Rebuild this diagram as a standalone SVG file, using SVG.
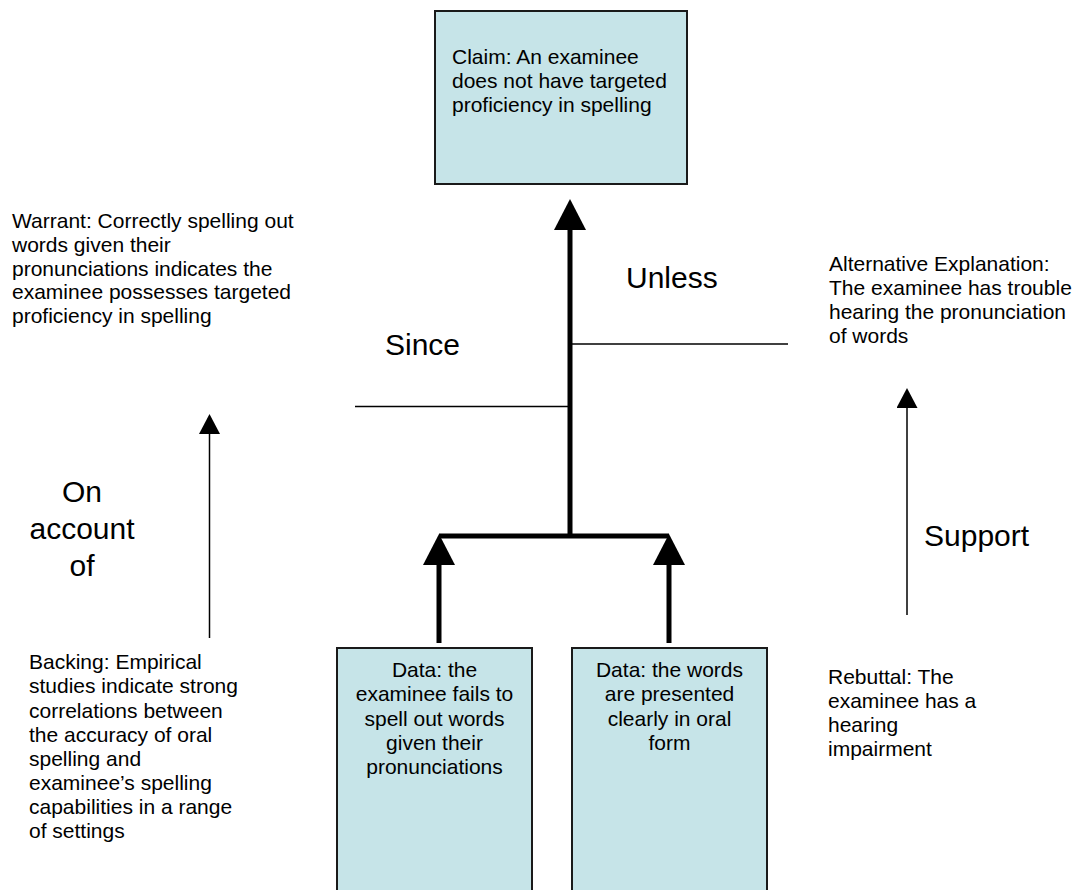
<svg xmlns="http://www.w3.org/2000/svg" width="1075" height="890" viewBox="0 0 1075 890">
<style>
.box{fill:#c6e4e8;stroke:#1a1a1a;stroke-width:2}
.t{font-family:"Liberation Sans",Arial,sans-serif;font-size:21px;fill:#000}
.c{text-anchor:middle}
.big{font-family:"Liberation Sans",Arial,sans-serif;font-size:30px;fill:#000}
.thick{stroke:#000;stroke-width:5;fill:none}
.thin{stroke:#000;stroke-width:1.5;fill:none}
</style>
<defs>
<marker id="ahBig" markerUnits="userSpaceOnUse" markerWidth="33" markerHeight="33" refX="1" refY="16" orient="auto" viewBox="0 0 33 33">
<path d="M0,0 L31,16 L0,32 z" fill="#000"/>
</marker>
<marker id="ahSmall" markerUnits="userSpaceOnUse" markerWidth="22" markerHeight="22" refX="1" refY="10.5" orient="auto" viewBox="0 0 22 22">
<path d="M0,0 L20,10.5 L0,21 z" fill="#000"/>
</marker>
</defs>
<g id="connectors">
<line class="thick" x1="570" y1="538" x2="570" y2="229" marker-end="url(#ahBig)"/>
<line class="thick" x1="439" y1="536" x2="669" y2="536"/>
<line class="thick" x1="439" y1="643" x2="439" y2="564" marker-end="url(#ahBig)"/>
<line class="thick" x1="669" y1="643" x2="669" y2="564" marker-end="url(#ahBig)"/>
<line class="thin" x1="355" y1="406.5" x2="568" y2="406.5"/>
<line class="thin" x1="572" y1="344" x2="788" y2="344"/>
<line class="thin" x1="209.5" y1="638" x2="209.5" y2="433" marker-end="url(#ahSmall)"/>
<line class="thin" x1="907" y1="615" x2="907" y2="407" marker-end="url(#ahSmall)"/>
<text class="big" x="385" y="355">Since</text>
<text class="big" x="626" y="288">Unless</text>
<text class="big c" x="82"><tspan x="82" y="502">On</tspan><tspan x="82" y="539">account</tspan><tspan x="82" y="576">of</tspan></text>
<text class="big" x="924" y="546">Support</text>
</g>
<g id="claim">
<rect class="box" x="435" y="11" width="252" height="173"/>
<text class="t"><tspan x="452" y="64">Claim: An examinee</tspan><tspan x="452" y="88">does not have targeted</tspan><tspan x="452" y="112">proficiency in spelling</tspan></text>
</g>
<g id="data1">
<rect class="box" x="337" y="648" width="195" height="260"/>
<text class="t c"><tspan x="434.5" y="677">Data: the</tspan><tspan x="434.5" y="701">examinee fails to</tspan><tspan x="434.5" y="725.5">spell out words</tspan><tspan x="434.5" y="750">given their</tspan><tspan x="434.5" y="774">pronunciations</tspan></text>
</g>
<g id="data2">
<rect class="box" x="572" y="648" width="195" height="260"/>
<text class="t c"><tspan x="669.5" y="677">Data: the words</tspan><tspan x="669.5" y="701">are presented</tspan><tspan x="669.5" y="725.5">clearly in oral</tspan><tspan x="669.5" y="750">form</tspan></text>
</g>
<g id="warrant">
<text class="t"><tspan x="12" y="228">Warrant: Correctly spelling out</tspan><tspan x="12" y="252">words given their</tspan><tspan x="12" y="275.5">pronunciations indicates the</tspan><tspan x="12" y="299">examinee possesses targeted</tspan><tspan x="12" y="322.5">proficiency in spelling</tspan></text>
</g>
<g id="backing">
<text class="t"><tspan x="29" y="669">Backing: Empirical</tspan><tspan x="29" y="693">studies indicate strong</tspan><tspan x="29" y="717.5">correlations between</tspan><tspan x="29" y="741.5">the accuracy of oral</tspan><tspan x="29" y="766">spelling and</tspan><tspan x="29" y="790">examinee’s spelling</tspan><tspan x="29" y="814">capabilities in a range</tspan><tspan x="29" y="838">of settings</tspan></text>
</g>
<g id="alternative">
<text class="t"><tspan x="829" y="271">Alternative Explanation:</tspan><tspan x="829" y="295">The examinee has trouble</tspan><tspan x="829" y="319">hearing the pronunciation</tspan><tspan x="829" y="343">of words</tspan></text>
</g>
<g id="rebuttal">
<text class="t"><tspan x="828" y="684">Rebuttal: The</tspan><tspan x="828" y="708">examinee has a</tspan><tspan x="828" y="732">hearing</tspan><tspan x="828" y="756">impairment</tspan></text>
</g>
</svg>
